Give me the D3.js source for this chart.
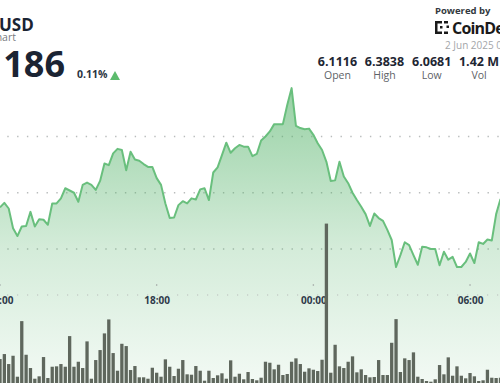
<!DOCTYPE html>
<html>
<head>
<meta charset="utf-8">
<script src="https://cdn.jsdelivr.net/npm/d3@7"></script>
<style>
  html, body { margin: 0; padding: 0; background: #ffffff; }
  svg { display: block; font-family: "Open Sans", "Noto Sans", sans-serif; }
</style>
</head>
<body>
<svg id="chart" width="500" height="383"></svg>
<script>
// ---- Data ----
const startTime = Date.UTC(2025, 5, 1, 12, 0); // 1 Jun 2025 12:00, 10-minute steps
const stepMinutes = 10;

const priceValues = [
  6.174, 6.182, 6.172, 6.137, 6.123, 6.140, 6.141, 6.166, 6.140, 6.153,
  6.152, 6.143, 6.181, 6.181, 6.190, 6.208, 6.204, 6.200, 6.184, 6.214,
  6.218, 6.214, 6.205, 6.221, 6.252, 6.249, 6.270, 6.278, 6.276, 6.240,
  6.273, 6.259, 6.257, 6.251, 6.246, 6.246, 6.226, 6.214, 6.181, 6.155,
  6.156, 6.178, 6.185, 6.181, 6.190, 6.188, 6.206, 6.208, 6.187, 6.236,
  6.245, 6.267, 6.289, 6.271, 6.279, 6.285, 6.282, 6.282, 6.265, 6.269,
  6.293, 6.300, 6.309, 6.322, 6.322, 6.322, 6.356, 6.386, 6.319, 6.315,
  6.313, 6.314, 6.303, 6.288, 6.276, 6.255, 6.221, 6.222, 6.255, 6.229,
  6.217, 6.200, 6.187, 6.175, 6.162, 6.141, 6.163, 6.155, 6.150, 6.134,
  6.116, 6.068, 6.089, 6.112, 6.107, 6.089, 6.072, 6.104, 6.103, 6.100,
  6.100, 6.071, 6.095, 6.081, 6.086, 6.068, 6.068, 6.077, 6.092, 6.075,
  6.112, 6.109, 6.117, 6.115, 6.162, 6.189
];

const volumeValues = [
  24, 29, 19, 27.3, 6.3, 62, 28.3, 15, 4.3, 6.7,
  26, 5, 16.3, 16.7, 19, 16.3, 47, 16.3, 21.3, 15,
  41.7, 4.3, 23, 33, 49.7, 63.7, 30, 12.3, 39.3, 37,
  13, 17, 5.7, 5.7, 4.3, 15.3, 10.3, 6.3, 23.7, 16.3,
  7, 14.3, 23, 8.7, 8.3, 17, 12.3, 2.3, 12.3, 5,
  7.7, 9.7, 4.3, 22.7, 6.3, 9.3, 3.7, 11, 4, 2.7,
  5.3, 21.3, 20.3, 13.7, 18.3, 8, 9, 21.3, 24.7, 19,
  11.3, 14.7, 13.3, 12, 23.3, 159.7, 10.3, 38.3, 16.7, 15,
  21.3, 26.7, 10.7, 13.7, 8, 5.7, 6, 23, 8, 8,
  40.3, 64, 11, 24.7, 23, 30.7, 6.3, 4, 2, 1.3,
  3.7, 18, 8.7, 25.7, 7.3, 16.7, 7.3, 4.7, 10, 6.7,
  2, 2.7, 13.3, 5.3, 5, 5.3
];

const gridValues = [6.10, 6.20, 6.30];
const tickHoursFromStart = [0, 6, 12, 18];
const tickLabels = ["12:00", "18:00", "00:00", "06:00"];

const statValues = ["6.1116", "6.3838", "6.0681", "1.42 M"];
const statLabels = ["Open", "High", "Low", "Vol"];

const titleText = "USD";
const subtitleText = "Price Chart";
const priceText = "6.1186";
const changeText = "0.11%";
const poweredText = "Powered by";
const brandText = "CoinDesk";
const dateText = "2 Jun 2025 09:10 UTC";

// ---- Build ----
const svg = d3.select("#chart");
const W = 500, H = 383;

const times = priceValues.map((_, i) => new Date(startTime + i * stepMinutes * 60000));
const series = priceValues.map((v, i) => ({ t: times[i], v: v, vol: volumeValues[i] }));

const x = d3.scaleUtc()
  .domain([times[0], times[times.length - 1]])
  .range([0, 500.5]);

const y = d3.scaleLinear()
  .domain([6.10, 6.30])
  .range([249, 136.5]);

const yVol = d3.scaleLinear()
  .domain([0, 160])
  .range([383, 223.3]);

// gradient for the area
const defs = svg.append("defs");
const grad = defs.append("linearGradient")
  .attr("id", "areaGrad")
  .attr("gradientUnits", "userSpaceOnUse")
  .attr("x1", 0).attr("y1", 85).attr("x2", 0).attr("y2", H);
grad.append("stop").attr("offset", "0").attr("stop-color", "#4caf62").attr("stop-opacity", 0.58);
grad.append("stop").attr("offset", "0.55").attr("stop-color", "#4caf62").attr("stop-opacity", 0.24);
grad.append("stop").attr("offset", "1").attr("stop-color", "#4caf62").attr("stop-opacity", 0.07);

// dotted gridlines
const gridG = svg.append("g");
gridG.selectAll("line.grid")
  .data(gridValues)
  .join("line")
  .attr("class", "grid")
  .attr("x1", 0).attr("x2", W)
  .attr("y1", d => y(d)).attr("y2", d => y(d))
  .attr("stroke", "#b9bcbc")
  .attr("stroke-width", 1.4)
  .attr("stroke-dasharray", "1.4 8.4")
  .attr("stroke-dashoffset", 2.5);

// area + line
const area = d3.area()
  .x(d => x(d.t))
  .y0(H)
  .y1(d => y(d.v));
svg.append("path")
  .datum(series)
  .attr("d", area)
  .attr("fill", "url(#areaGrad)");

const line = d3.line()
  .x(d => x(d.t))
  .y(d => y(d.v));
svg.append("path")
  .datum(series)
  .attr("d", line)
  .attr("fill", "none")
  .attr("stroke", "#69bf7d")
  .attr("stroke-width", 2)
  .attr("stroke-linejoin", "round");

// x axis (dotted base line + labels)
const axisY = 295;
svg.append("line")
  .attr("x1", 0).attr("x2", W)
  .attr("y1", axisY).attr("y2", axisY)
  .attr("stroke", "#b9bcbc")
  .attr("stroke-width", 1.2)
  .attr("stroke-dasharray", "1.2 8.8")
  .attr("stroke-dashoffset", 3);

const tickTimes = tickHoursFromStart.map(h => new Date(startTime + h * 3600000));
const axis = d3.axisBottom(x)
  .tickValues(tickTimes)
  .tickFormat((d, i) => tickLabels[i])
  .tickSize(0)
  .tickPadding(2);
const axisG = svg.append("g")
  .attr("transform", `translate(0,${axisY})`)
  .call(axis);
axisG.select(".domain").remove();
axisG.selectAll("text")
  .attr("font-family", "'Open Sans', sans-serif")
  .attr("font-size", 10)
  .attr("font-weight", 700)
  .attr("fill", "#2f3a4a");

svg.selectAll("circle.tickdot")
  .data(tickTimes)
  .join("circle")
  .attr("class", "tickdot")
  .attr("cx", d => x(d))
  .attr("cy", 285)
  .attr("r", 0.8)
  .attr("fill", "#9a9d9d");

// volume bars
const barW = 3.3;
svg.append("g")
  .selectAll("rect")
  .data(series)
  .join("rect")
  .attr("x", d => x(d.t) - barW / 2)
  .attr("y", d => yVol(d.vol))
  .attr("width", barW)
  .attr("height", d => yVol(0) - yVol(d.vol))
  .attr("fill", "#5f675d");

// ---- Header ----
svg.append("text")
  .attr("x", -1).attr("y", 30.7)
  .attr("font-size", 17).attr("font-weight", 700)
  .attr("fill", "#1b2433")
  .text(titleText);

svg.append("text")
  .attr("x", 16).attr("y", 41)
  .attr("text-anchor", "end")
  .attr("font-size", 10.5)
  .attr("fill", "#777b80")
  .text(subtitleText);

svg.append("text")
  .attr("x", 65).attr("y", 77)
  .attr("text-anchor", "end")
  .attr("font-size", 36).attr("font-weight", 700)
  .attr("fill", "#1b2433")
  .text(priceText);

svg.append("text")
  .attr("x", 77).attr("y", 78)
  .attr("font-size", 10.5).attr("font-weight", 700)
  .attr("fill", "#2b3442")
  .text(changeText);

svg.append("path")
  .attr("d", "M110,80 L120,80 L115,71 Z")
  .attr("fill", "#5cbb6d");

// Powered by
svg.append("text")
  .attr("x", 435).attr("y", 14)
  .attr("font-size", 9.5).attr("font-weight", 700)
  .attr("fill", "#333a40")
  .text(poweredText);

// logo icon (simple bracket mark)
const logo = svg.append("g").attr("fill", "#1a1a1a");
[[435, 21, 2.5, 13], [435, 21, 7, 2.5], [435, 31.5, 7, 2.5],
 [444, 21, 4, 2.5], [444, 31.5, 4, 2.5], [446.5, 25.5, 2.5, 2.5], [440, 26, 2.5, 2.5]]
  .forEach(r => logo.append("rect").attr("x", r[0]).attr("y", r[1]).attr("width", r[2]).attr("height", r[3]));

svg.append("text")
  .attr("x", 452).attr("y", 34)
  .attr("font-size", 16).attr("font-weight", 700)
  .attr("letter-spacing", -0.8)
  .attr("fill", "#1a1a1a")
  .text(brandText);

svg.append("text")
  .attr("x", 445).attr("y", 49)
  .attr("font-size", 10)
  .attr("fill", "#a3a6a9")
  .text(dateText);

// stats
const statX = [337.5, 384.5, 431.7, 479];
statValues.forEach((v, i) => {
  svg.append("text")
    .attr("x", statX[i]).attr("y", 66)
    .attr("text-anchor", "middle")
    .attr("font-size", 12.5).attr("font-weight", 700)
    .attr("fill", "#1e2633")
    .text(v);
  svg.append("text")
    .attr("x", statX[i]).attr("y", 79)
    .attr("text-anchor", "middle")
    .attr("font-size", 10.5)
    .attr("fill", "#5e6267")
    .text(statLabels[i]);
});
</script>
</body>
</html>
